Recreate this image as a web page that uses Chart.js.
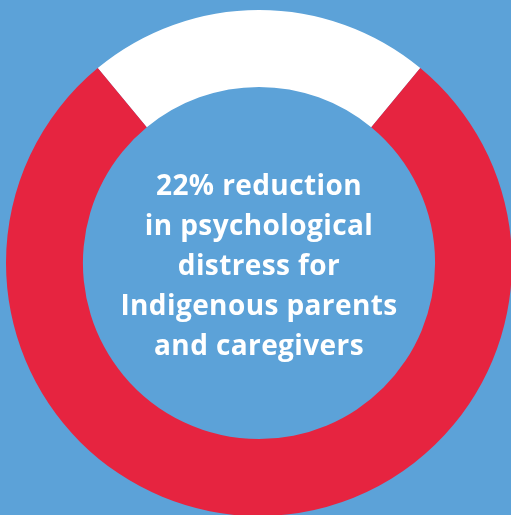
<!DOCTYPE html>
<html>
<head>
<meta charset="utf-8">
<script src="https://cdn.jsdelivr.net/npm/chart.js@4"></script>
<style>
    html, body {
        margin: 0;
        padding: 0;
        width: 511px;
        height: 515px;
        overflow: hidden;
        background: #5CA2D8;
    }
    #wrap {
        position: absolute;
        left: 6px;
        top: 10px;
        width: 506px;
        height: 506px;
    }
    #label {
        position: absolute;
        left: 0;
        width: 518px;
        top: 164px;
        text-align: center;
        color: #fff;
        font-family: "Open Sans", sans-serif;
        font-weight: 700;
        font-size: 28px;
        letter-spacing: 0.4px;
        line-height: 40px;
    }
</style>
</head>
<body>
<div id="wrap"><canvas id="ring"></canvas></div>
<div id="label">22% reduction<br>in psychological<br>distress for<br>Indigenous parents<br>and caregivers</div>
<script>
(function () {
    var categories = ['Reduction', 'Remaining'];
    var values = [22, 78];
    var colors = ['#FFFFFF', '#E62440'];

    // white share sits centred on the top of the ring
    var startAngle = -values[0] / 100 * 360 / 2;

    new Chart(document.getElementById('ring'), {
        type: 'doughnut',
        data: {
            labels: categories,
            datasets: [{
                data: values,
                backgroundColor: colors,
                borderWidth: 0
            }]
        },
        options: {
            responsive: true,
            maintainAspectRatio: false,
            animation: false,
            cutout: '69.6%',
            rotation: startAngle,
            layout: { padding: 0 },
            plugins: {
                legend: { display: false },
                tooltip: { enabled: false }
            }
        }
    });
})();
</script>
</body>
</html>
